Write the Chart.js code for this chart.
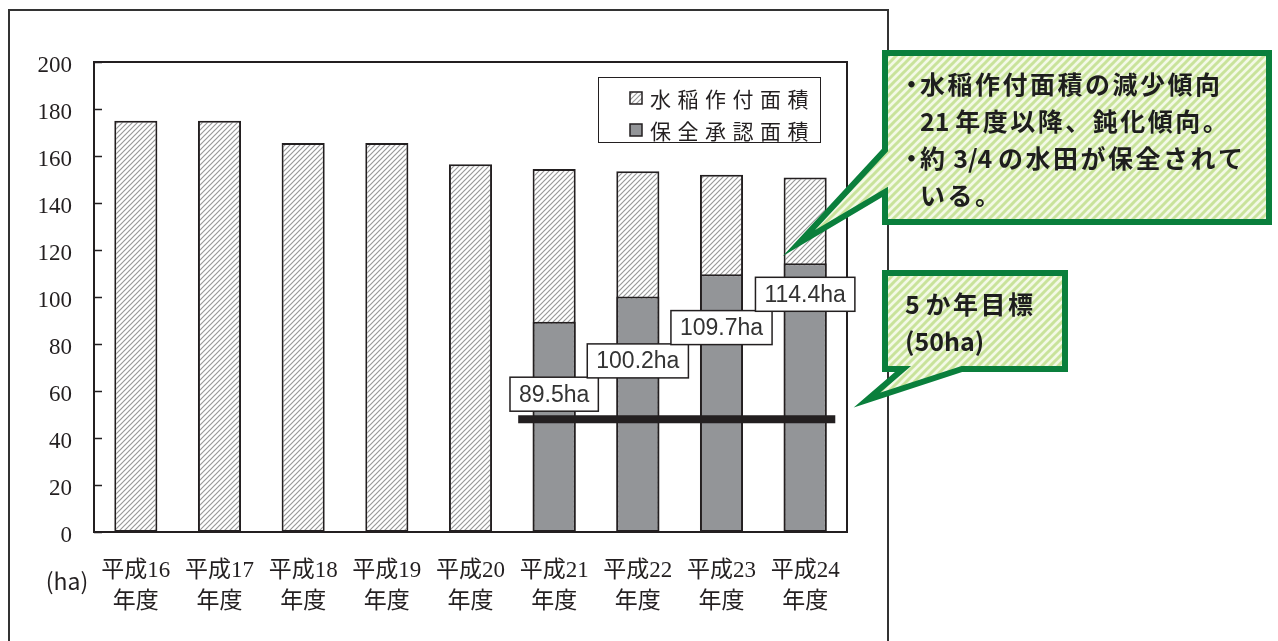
<!DOCTYPE html>
<html>
<head>
<meta charset="utf-8">
<script src="https://cdn.jsdelivr.net/npm/chart.js@4"></script>
<style>
  html, body { margin: 0; padding: 0; background: #fff; }
  canvas { display: block; }
</style>
</head>
<body>
<canvas id="chart" width="1278" height="641"></canvas>
<script>
// データ
const nendo = [['平成16', '年度'], ['平成17', '年度'], ['平成18', '年度'], ['平成19', '年度'], ['平成20', '年度'],
               ['平成21', '年度'], ['平成22', '年度'], ['平成23', '年度'], ['平成24', '年度']];
const sakutsuke = [175, 175, 165.5, 165.5, 156.5, 154.5, 153.5, 152, 150.8];   // 水稲作付面積
const hozen = [null, null, null, null, null, 89.5, 100.2, 109.7, 114.4];      // 保全承認面積
const hozenLabels = [null, null, null, null, null, '89.5ha', '100.2ha', '109.7ha', '114.4ha'];
const mokuhyo = 48;                                                         // 5か年目標の線
const yTicks = [0, 20, 40, 60, 80, 100, 120, 140, 160, 180, 200];

const serif = '"Liberation Serif", "Noto Sans CJK JP", serif';
const gothic = '"Noto Sans CJK JP", sans-serif';
const green = '#0a7f3c';

// 斜線パターン
function makeHatch(size, bg, fg, lw) {
    const c = document.createElement('canvas');
    c.width = size; c.height = size;
    const g = c.getContext('2d');
    g.fillStyle = bg;
    g.fillRect(0, 0, size, size);
    g.strokeStyle = fg;
    g.lineWidth = lw;
    g.beginPath();
    g.moveTo(0, size); g.lineTo(size, 0);
    g.moveTo(-size / 2, size / 2); g.lineTo(size / 2, -size / 2);
    g.moveTo(size / 2, size * 1.5); g.lineTo(size * 1.5, size / 2);
    g.stroke();
    return g.createPattern(c, 'repeat');
}
const ctx = document.getElementById('chart').getContext('2d');
const grayHatch = makeHatch(5, '#ffffff', '#999999', 1.2);
const greenHatch = makeHatch(8, '#f3f9e6', '#c9e39b', 3);

// 文字を間隔付きで描く（全角文字のあとだけ間隔をあける）
function spaced(g, text, x, y, gap) {
    let cx = x;
    for (const ch of text) {
        if (ch === '・') {
            // 行頭の点は左にはみ出して描く
            g.fillText(ch, cx - 21, y);
            continue;
        }
        g.fillText(ch, cx, y);
        cx += g.measureText(ch).width + (ch.charCodeAt(0) > 255 ? gap : 0);
    }
}

const decoPlugin = {
    id: 'deco',
    beforeDraw(chart) {
        const g = chart.ctx;
        g.save();
        g.fillStyle = '#fff';
        g.fillRect(0, 0, chart.width, chart.height);
        g.restore();
    },
    afterDatasetsDraw(chart) {
        const g = chart.ctx;
        const xs = chart.scales.x, ys = chart.scales.y;
        const a = chart.chartArea;
        const catW = a.width / nendo.length;
        g.save();

        // グラフ枠と内向き目盛
        g.strokeStyle = '#231f20';
        g.lineWidth = 2;
        g.strokeRect(a.left, a.top, a.right - a.left, a.bottom - a.top);
        g.beginPath();
        yTicks.forEach(v => {
            const y = Math.round(ys.getPixelForValue(v)) + 0.5;
            g.moveTo(a.left, y);
            g.lineTo(a.left + 8, y);
        });
        g.lineWidth = 1.5;
        g.stroke();

        // 目標線
        const ly = ys.getPixelForValue(mokuhyo);
        g.beginPath();
        g.moveTo(xs.getPixelForValue(5) - 0.43 * catW, ly);
        g.lineTo(xs.getPixelForValue(8) + 0.36 * catW, ly);
        g.lineWidth = 8;
        g.strokeStyle = '#231f20';
        g.stroke();

        // 保全承認面積のラベル
        g.font = '23px "Liberation Sans", sans-serif';
        g.textBaseline = 'middle';
        g.textAlign = 'center';
        let k = 0;
        hozenLabels.forEach((t, i) => {
            if (!t) return;
            const cx = xs.getPixelForValue(i);
            const w = g.measureText(t).width + 18;
            const bottom = ly - 8 - k * 33.3;
            g.fillStyle = '#fff';
            g.fillRect(cx - w / 2, bottom - 34, w, 34);
            g.strokeStyle = '#231f20';
            g.lineWidth = 1.5;
            g.strokeRect(cx - w / 2, bottom - 34, w, 34);
            g.fillStyle = '#333';
            g.fillText(t, cx, bottom - 16);
            k++;
        });

        // 凡例
        g.fillStyle = '#fff';
        g.fillRect(598, 77, 222, 65);
        g.strokeStyle = '#231f20';
        g.lineWidth = 1;
        g.strokeRect(598.5, 77.5, 222, 65);
        [[grayHatch, '水稲作付面積', 98], ['#939598', '保全承認面積', 130]].forEach(([fill, label, y]) => {
            g.fillStyle = fill;
            g.fillRect(630, y - 6, 12, 12);
            g.lineWidth = 1.5;
            g.strokeRect(630, y - 6, 12, 12);
            g.fillStyle = '#231f20';
            g.font = '21px ' + gothic;
            g.textAlign = 'left';
            spaced(g, label, 650, y + 1, 6.5);
        });

        // (ha)
        g.font = '23px ' + gothic;
        g.textAlign = 'center';
        g.fillText('(ha)', 67, 581);

        // 外枠
        g.strokeStyle = '#333';
        g.lineWidth = 2;
        g.strokeRect(9, 10, 879, 660);

        // 吹き出し
        function bubble(pts) {
            g.beginPath();
            pts.forEach((p, i) => i ? g.lineTo(p[0], p[1]) : g.moveTo(p[0], p[1]));
            g.closePath();
            g.fillStyle = greenHatch;
            g.fill();
            g.lineWidth = 6;
            g.lineJoin = 'miter';
            g.miterLimit = 10;
            g.strokeStyle = green;
            g.stroke();
        }
        bubble([[885, 53], [1269, 53], [1269, 222], [885, 222], [885, 192], [799, 243], [885, 150]]);
        bubble([[885, 273], [1065, 273], [1065, 369], [962, 369], [867, 400], [903, 369], [885, 369]]);

        g.fillStyle = '#1e1e1e';
        g.textAlign = 'left';
        g.font = 'bold 25px ' + gothic;
        spaced(g, '・水稲作付面積の減少傾向', 920, 84, 2.5);
        spaced(g, '21 年度以降、鈍化傾向。', 920, 121, 2.5);
        spaced(g, '・約 3/4 の水田が保全されて', 920, 158, 2.5);
        spaced(g, 'いる。', 920, 195, 2.5);
        spaced(g, '5 か年目標', 905, 304, 2.5);
        spaced(g, '(50ha)', 905, 341, 2.5);
        g.restore();
    }
};

new Chart(ctx, {
    type: 'bar',
    data: {
        labels: nendo,
        datasets: [{
            label: '保全承認面積',
            data: hozen,
            backgroundColor: '#939598',
            borderColor: '#231f20',
            borderWidth: 2,
            borderSkipped: false,
            categoryPercentage: 1,
            barPercentage: 0.515,
            order: 1
        }, {
            label: '水稲作付面積',
            data: sakutsuke,
            backgroundColor: grayHatch,
            borderColor: '#231f20',
            borderWidth: 2,
            borderSkipped: false,
            categoryPercentage: 1,
            barPercentage: 0.515,
            order: 2
        }]
    },
    options: {
        responsive: false,
        animation: false,
        devicePixelRatio: 1,
        layout: { padding: { top: 62, right: 431, left: 0, bottom: 0 } },
        plugins: {
            legend: { display: false },
            tooltip: { enabled: false }
        },
        scales: {
            x: {
                stacked: true,
                grid: { display: false, drawTicks: false },
                border: { display: false },
                ticks: {
                    color: '#231f20',
                    font: { family: serif, size: 23, lineHeight: '31px' },
                    padding: 23,
                    maxRotation: 0,
                    autoSkip: false
                },
                afterFit(s) { s.height = 109; }
            },
            y: {
                min: 0,
                max: 200,
                grid: { display: false, drawTicks: false },
                border: { display: false },
                ticks: {
                    stepSize: 20,
                    color: '#231f20',
                    font: { family: serif, size: 23 },
                    padding: 22,
                    labelOffset: 4
                },
                afterFit(s) { s.width = 94; }
            }
        }
    },
    plugins: [decoPlugin]
});
</script>
</body>
</html>
